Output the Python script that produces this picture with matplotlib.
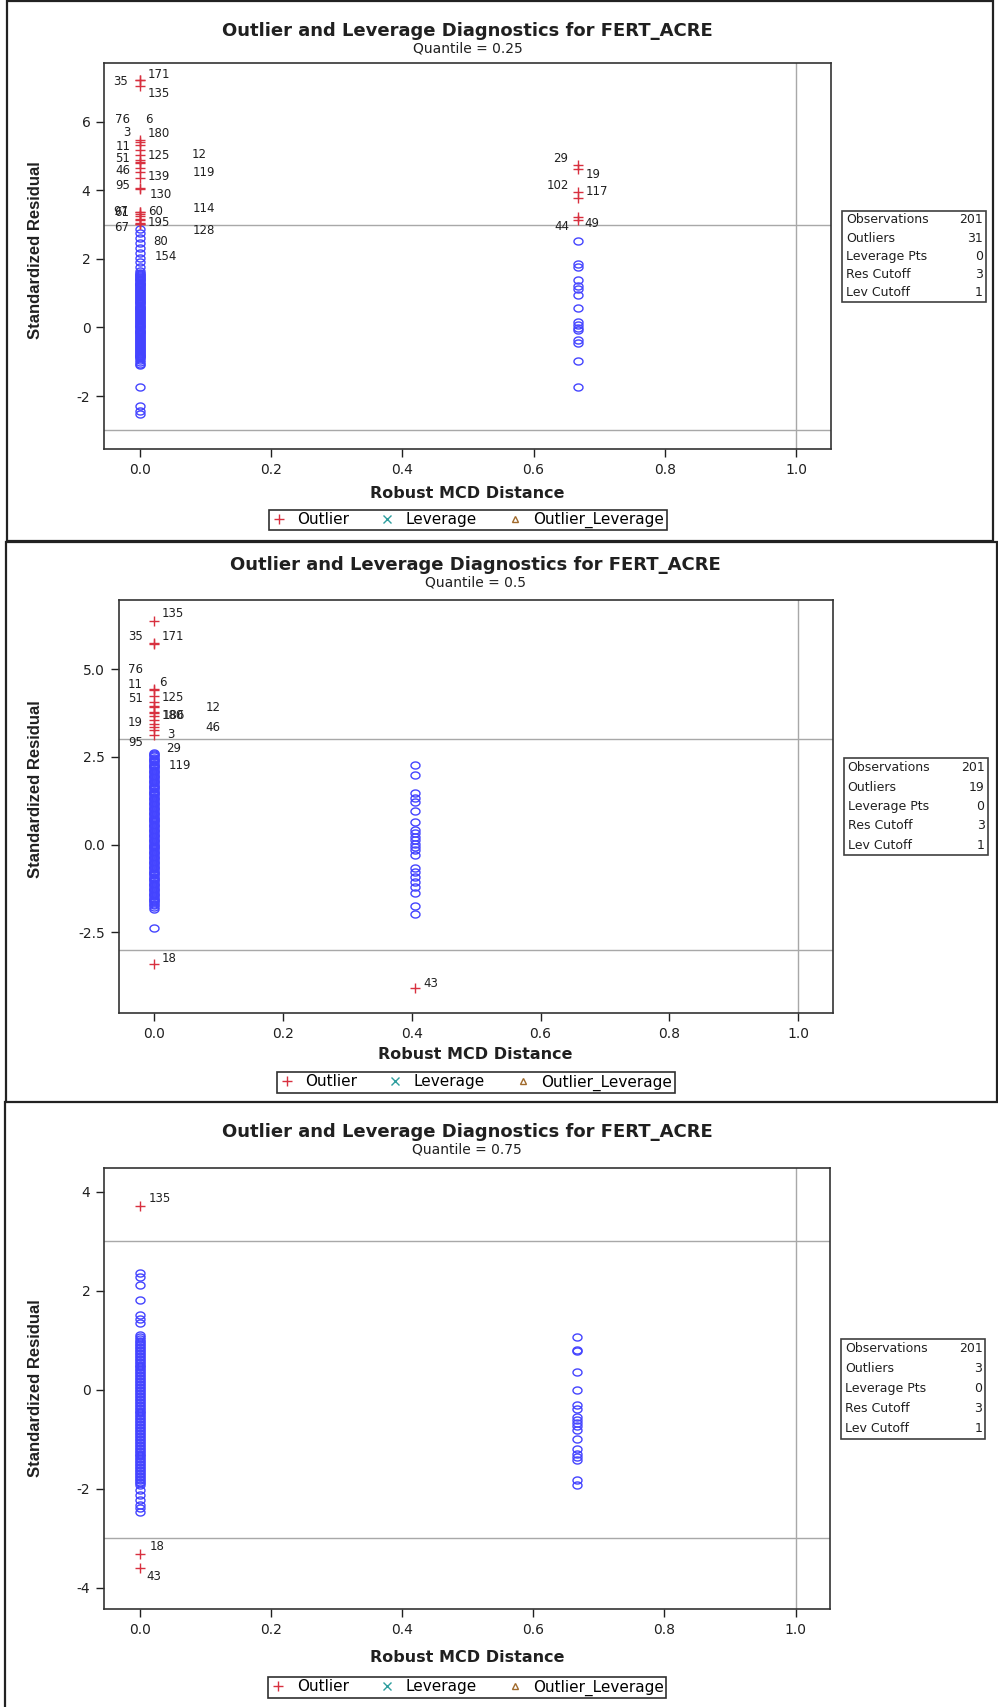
import matplotlib
matplotlib.use("Agg")
import matplotlib.pyplot as plt
from matplotlib.lines import Line2D
from matplotlib.path import Path
from matplotlib.patches import Rectangle
import numpy as np

plt.rcParams["font.family"] = ["DejaVu Sans"]
plt.rcParams["axes.unicode_minus"] = False  # plain hyphen for negative ticks

W, H = 998, 1707  # canvas in pixels at dpi 100

RED = "#D8303F"
BLUE = "#4444FF"
TEAL = "#2E9E9E"
BROWN = "#A06A2C"
REF = "#A8A8A8"
INK = "#202020"

stat_names = ["Observations", "Outliers", "Leverage Pts", "Res Cutoff", "Lev Cutoff"]
x_ticks = [0.0, 0.2, 0.4, 0.6, 0.8, 1.0]

# ---------- Quantile = 0.25 ----------
q25_far_dist = 0.667
q25_res_near = [
    2.87, 2.74, 2.60, 2.46, 2.32, 2.18, 2.04, 1.90, 1.76, 1.64,
    1.60, 1.57, 1.54, 1.51, 1.48, 1.45, 1.42, 1.39, 1.37, 1.34,
    1.31, 1.28, 1.26, 1.23, 1.20, 1.17, 1.14, 1.12, 1.09, 1.06,
    1.03, 1.00, 0.98, 0.95, 0.92, 0.89, 0.86, 0.84, 0.81, 0.78,
    0.75, 0.72, 0.70, 0.67, 0.64, 0.61, 0.58, 0.56, 0.53, 0.50,
    0.47, 0.44, 0.42, 0.39, 0.36, 0.33, 0.30, 0.28, 0.25, 0.22,
    0.19, 0.16, 0.14, 0.11, 0.08, 0.05, 0.02, 0.00, -0.03, -0.06,
    -0.09, -0.12, -0.14, -0.17, -0.20, -0.23, -0.26, -0.28, -0.31, -0.34,
    -0.37, -0.40, -0.42, -0.45, -0.48, -0.51, -0.54, -0.56, -0.59, -0.62,
    -0.65, -0.68, -0.70, -0.73, -0.76, -0.79, -0.82, -0.84, -0.87, -0.90,
    -0.96, -1.01, -1.05, -1.10, -1.72, -2.28, -2.44, -2.53,
]
q25_res_far = [2.53, 1.84, 1.76, 1.37, 1.20, 1.11, 0.94, 0.56, 0.15, 0.08,
               -0.02, -0.07, -0.36, -0.46, -0.98, -1.74]
q25_out_ids = ["35", "171", "135", "76", "6", "3", "180", "11", "51", "125",
               "12", "46", "119", "139", "95", "130", "97", "61", "60", "114",
               "195", "128", "67", "80", "154",
               "29", "19", "102", "117", "49", "44"]
q25_out_dist = [0.0] * 25 + [0.667] * 6
q25_out_res = [7.20, 7.22, 7.03, 5.46, 5.40, 5.32, 5.17, 5.03, 4.88, 4.82,
               4.79, 4.64, 4.52, 4.37, 4.06, 4.03, 3.38, 3.36, 3.30, 3.26,
               3.16, 3.12, 3.04, 3.02, 3.01,
               4.73, 4.61, 3.95, 3.76, 3.21, 3.12]
q25_stats = [201, 31, 0, 3, 1]
q25_yticks = [-2, 0, 2, 4, 6]
q25_ytick_labels = ["-2", "0", "2", "4", "6"]

# ---------- Quantile = 0.5 ----------
q50_far_dist = 0.406
q50_res_near = [
    2.62, 2.59, 2.55, 2.52, 2.48, 2.45, 2.41, 2.38, 2.34, 2.31,
    2.27, 2.24, 2.20, 2.17, 2.13, 2.10, 2.06, 2.03, 1.99, 1.96,
    1.92, 1.89, 1.85, 1.82, 1.78, 1.75, 1.71, 1.68, 1.64, 1.61,
    1.57, 1.54, 1.50, 1.47, 1.43, 1.40, 1.36, 1.33, 1.29, 1.26,
    1.22, 1.19, 1.15, 1.12, 1.08, 1.05, 1.01, 0.98, 0.94, 0.91,
    0.87, 0.84, 0.80, 0.77, 0.73, 0.70, 0.66, 0.63, 0.59, 0.56,
    0.52, 0.49, 0.45, 0.42, 0.38, 0.35, 0.31, 0.28, 0.24, 0.21,
    0.17, 0.14, 0.10, 0.07, 0.03, 0.00, -0.04, -0.07, -0.11, -0.14,
    -0.18, -0.21, -0.25, -0.28, -0.32, -0.35, -0.39, -0.42, -0.46, -0.49,
    -0.53, -0.56, -0.60, -0.63, -0.67, -0.70, -0.74, -0.77, -0.81, -0.84,
    -0.88, -0.91, -0.95, -0.98, -1.02, -1.05, -1.09, -1.12, -1.16, -1.19,
    -1.23, -1.26, -1.30, -1.33, -1.37, -1.40, -1.44, -1.47, -1.51, -1.54,
    -1.58, -1.61, -1.65, -1.68, -1.72, -1.77, -1.85, -2.37,
]
q50_res_far = [2.26, 1.98, 1.46, 1.34, 1.22, 0.96, 0.65, 0.41, 0.32, 0.22,
               0.13, 0.03, -0.06, -0.16, -0.30, -0.68, -0.78, -0.92, -1.06, -1.20,
               -1.39, -1.74, -1.98]
q50_out_ids = ["135", "171", "35", "76", "6", "11", "125", "51", "12", "180",
               "186", "46", "19", "29", "119", "3", "95", "18", "43"]
q50_out_dist = [0.0] * 18 + [0.406]
q50_out_res = [6.38, 5.75, 5.73, 4.42, 4.40, 4.23, 4.07, 3.95, 3.92, 3.77,
               3.75, 3.66, 3.55, 3.45, 3.36, 3.26, 3.12, -3.41, -4.10]
q50_stats = [201, 19, 0, 3, 1]
q50_yticks = [-2.5, 0.0, 2.5, 5.0]
q50_ytick_labels = ["-2.5", "0.0", "2.5", "5.0"]

# ---------- Quantile = 0.75 ----------
q75_far_dist = 0.667
q75_res_near = [
    2.36, 2.28, 2.11, 1.81, 1.51, 1.44, 1.34, 1.10, 1.06, 1.02,
    0.99, 0.96, 0.93, 0.90, 0.87, 0.84, 0.81, 0.78, 0.75, 0.72,
    0.69, 0.66, 0.63, 0.60, 0.57, 0.54, 0.51, 0.48, 0.45, 0.42,
    0.39, 0.36, 0.33, 0.30, 0.27, 0.24, 0.21, 0.18, 0.15, 0.12,
    0.09, 0.06, 0.03, 0.00, -0.03, -0.06, -0.09, -0.12, -0.15, -0.18,
    -0.21, -0.24, -0.27, -0.30, -0.33, -0.36, -0.39, -0.42, -0.45, -0.48,
    -0.51, -0.54, -0.57, -0.60, -0.63, -0.66, -0.69, -0.72, -0.75, -0.78,
    -0.81, -0.84, -0.87, -0.90, -0.93, -0.96, -0.99, -1.02, -1.05, -1.08,
    -1.11, -1.14, -1.17, -1.20, -1.23, -1.26, -1.29, -1.32, -1.35, -1.38,
    -1.41, -1.44, -1.47, -1.50, -1.53, -1.56, -1.59, -1.62, -1.65, -1.68,
    -1.71, -1.74, -1.77, -1.80, -1.83, -1.86, -1.89, -1.93, -2.02, -2.13,
    -2.23, -2.34, -2.40, -2.47,
]
q75_res_far = [1.07, 0.81, 0.78, 0.35, -0.01, -0.31, -0.38, -0.55, -0.62, -0.68,
               -0.74, -0.82, -1.00, -1.19, -1.29, -1.36, -1.43, -1.83, -1.93]
q75_out_ids = ["135", "18", "43"]
q75_out_dist = [0.0, 0.0, 0.0]
q75_out_res = [3.72, -3.33, -3.60]
q75_stats = [201, 3, 0, 3, 1]
q75_yticks = [-4, -2, 0, 2, 4]
q75_ytick_labels = ["-4", "-2", "0", "2", "4"]

# label placement: (dx, dy) in pixels from each point, y pointing down
q25_label_offsets = [(-19.5, 1.5), (19.5, -4.9), (19.5, 7.6), (-17, -20.2), (9.5, -22.3),
                     (-13, -12), (19.5, -16.2), (-17, -8), (-17, -1.1), (19.5, -6.2),
                     (59, -8.2), (-17, 2.7), (64, 0.5), (19.5, -0.6), (-17, -2.2),
                     (21.5, 5.7), (-18.5, 0.4), (-18, 0.2), (16, -2.3), (64, -6.7),
                     (19.5, 3.9), (64, 10.5), (-18.5, 4.8), (20.5, 18), (26, 32.7),
                     (-16.5, -6.3), (15.5, 5.6), (-19.5, -6), (19.5, -6.5), (14.5, 6.6),
                     (-15.5, 6.5)]
q50_label_offsets = [(19, -7.6), (19, -6.7), (-18.4, -7.4), (-18.4, -20.4), (9, -8),
                     (-18.4, -12), (19, -4.6), (-18.4, -7), (59, 0), (19, 3),
                     (19.6, 2.6), (59, 11), (-18.4, 2), (20, 24.6), (26, 38.4),
                     (16.6, 4), (-18.4, 7), (15, -6), (15, -5.4)]
q75_label_offsets = [(20, -7.5), (17, -8), (14.5, 8.4)]

# open ellipse marker for the inlier points
t = np.linspace(0, 2 * np.pi, 41)
ring = Path(np.column_stack([np.cos(t), 0.78 * np.sin(t)]))

fig = plt.figure(figsize=(W / 100, H / 100), dpi=100)


def fig_xy(x, y):
    # pixel position (origin top-left) -> figure fraction
    return x / W, 1 - y / H


def draw_panel(box, quantile, near, far_dist, far, ids, dist, res, offsets, stats,
               yticks, ytick_labels, ylim, head_y, xlab_y, ylab_frac, legend_y, table_h):
    left, top, right, bottom = box
    ax = fig.add_axes([left / W, 1 - bottom / H, (right - left) / W, (bottom - top) / H])

    # reference lines for residual and leverage cutoffs
    ax.axhline(3, color=REF, lw=1.0, zorder=1)
    ax.axhline(-3, color=REF, lw=1.0, zorder=1)
    ax.axvline(1.0, color=REF, lw=1.0, zorder=1)

    ax.plot(np.zeros(len(near)), near, linestyle="none", marker=ring, ms=6.5,
            mfc="none", mec=BLUE, mew=1.0, zorder=2)
    ax.plot(np.full(len(far), far_dist), far, linestyle="none", marker=ring, ms=6.5,
            mfc="none", mec=BLUE, mew=1.0, zorder=2)
    ax.plot(dist, res, linestyle="none", marker="+", ms=7, mew=1.0, color=RED, zorder=3)
    for name, d, r, (dx, dy) in zip(ids, dist, res, offsets):
        ax.annotate(name, (d, r), xytext=(dx * 0.72, -dy * 0.72), textcoords="offset points",
                    ha="center", va="center", fontsize=8.5, color=INK, zorder=4)

    ax.set_xlim(-0.054, 1.053)
    ax.set_ylim(ylim)
    ax.set_xticks(x_ticks)
    ax.set_xticklabels(["%.1f" % v for v in x_ticks])
    ax.set_yticks(yticks)
    ax.set_yticklabels(ytick_labels)
    ax.tick_params(direction="out", length=6, width=1, labelsize=10, pad=4, colors=INK)
    for s in ax.spines.values():
        s.set_color("#333333")
        s.set_linewidth(1.2)

    ax.set_xlabel("Robust MCD Distance", fontsize=11.5, fontweight="bold", color=INK)
    ax.xaxis.set_label_coords(0.5, -(xlab_y - bottom) / (bottom - top))
    ax.xaxis.label.set_verticalalignment("center")
    ax.set_ylabel("Standardized Residual", fontsize=12, fontweight="bold", color=INK,
                  family=["Liberation Sans", "DejaVu Sans"])
    ax.yaxis.set_label_coords((36 - left) / (right - left), ylab_frac)
    ax.yaxis.label.set_verticalalignment("center")

    cx = (left + right) / 2
    fig.text(*fig_xy(cx, head_y), "Outlier and Leverage Diagnostics for FERT_ACRE",
             ha="center", va="center", fontsize=13, fontweight="bold", color=INK)
    fig.text(*fig_xy(cx, head_y + 18), "Quantile = %s" % quantile,
             ha="center", va="center", fontsize=10, color=INK)

    # summary table beside the plot
    tl, tw = right + 11, 144
    tt = (top + bottom) / 2 - table_h / 2
    fig.add_artist(Rectangle(fig_xy(tl, tt + table_h), tw / W, table_h / H,
                             transform=fig.transFigure, fill=False, ec="#404040", lw=1.2))
    row_h = table_h / 5
    for k, (nm, v) in enumerate(zip(stat_names, stats)):
        ry = tt + row_h * (k + 0.5)
        fig.text(*fig_xy(tl + 4, ry), nm, ha="left", va="center", fontsize=9, color=INK)
        fig.text(*fig_xy(tl + tw - 3, ry), str(v), ha="right", va="center", fontsize=9, color=INK)

    handles = [Line2D([], [], ls="none", marker="+", ms=7, mew=1.0, color=RED),
               Line2D([], [], ls="none", marker="x", ms=6, mew=1.0, color=TEAL),
               Line2D([], [], ls="none", marker="^", ms=5, mew=1.0, mfc="none", mec=BROWN)]
    leg = fig.legend(handles, ["Outlier", "Leverage", "Outlier_Leverage"], loc="center",
                     bbox_to_anchor=fig_xy(cx, legend_y), ncol=3, fontsize=11,
                     frameon=True, fancybox=False, edgecolor="#303030", framealpha=1,
                     handlelength=1.0, handletextpad=0.7, columnspacing=2.0,
                     borderpad=0.15, borderaxespad=0)
    leg.get_frame().set_linewidth(1.2)
    return ax


draw_panel((104.3, 63.3, 831, 449.3), "0.25", q25_res_near, q25_far_dist, q25_res_far,
           q25_out_ids, q25_out_dist, q25_out_res, q25_label_offsets, q25_stats,
           q25_yticks, q25_ytick_labels, (-3.55, 7.70), 30.5, 493, 0.516, 520, 91)
draw_panel((119, 600, 832.5, 1013), "0.5", q50_res_near, q50_far_dist, q50_res_far,
           q50_out_ids, q50_out_dist, q50_out_res, q50_label_offsets, q50_stats,
           q50_yticks, q50_ytick_labels, (-4.80, 6.97), 564.8, 1054.6, 0.542, 1082.5, 97)
draw_panel((104.3, 1167.7, 830.4, 1609.3), "0.75", q75_res_near, q75_far_dist, q75_res_far,
           q75_out_ids, q75_out_dist, q75_out_res, q75_label_offsets, q75_stats,
           q75_yticks, q75_ytick_labels, (-4.44, 4.49), 1131.8, 1657.5, 0.5, 1687.5, 100)

# frames around the three stacked outputs
for (x0, y0, x1, y1) in [(7, 1, 992.5, 541), (5.7, 541.5, 997, 1102)]:
    fig.add_artist(Rectangle(fig_xy(x0, y1), (x1 - x0) / W, (y1 - y0) / H,
                             transform=fig.transFigure, fill=False, ec="#222222", lw=1.6))
fig.add_artist(Line2D([5 / W, 5 / W], [1 - 1102 / H, 0], transform=fig.transFigure,
                      color="#222222", lw=1.6))

fig.savefig("out.png", dpi=100)
